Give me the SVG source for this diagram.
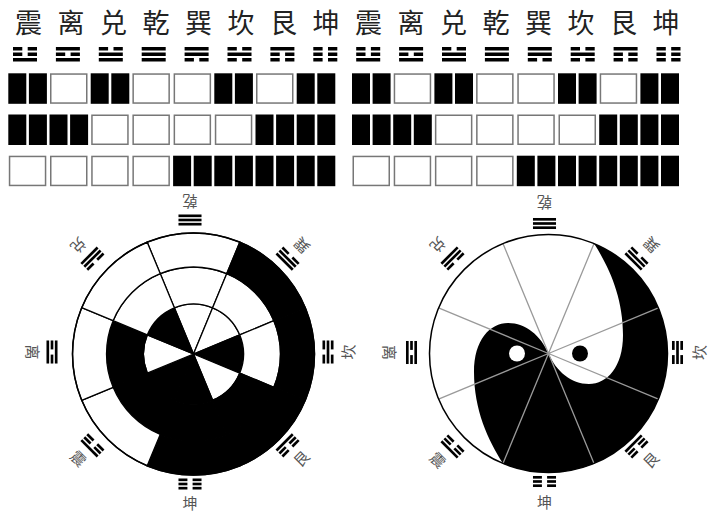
<svg xmlns="http://www.w3.org/2000/svg" width="711" height="513" viewBox="0 0 711 513">
<style>
.top-ch{font-family:"Noto Sans CJK SC","Noto Sans CJK TC",sans-serif;font-size:27px;fill:#222;text-anchor:middle}
.lab{font-family:"Noto Sans CJK SC","Noto Sans CJK TC",sans-serif;font-size:15px;fill:#555;text-anchor:middle;dominant-baseline:central}
.box{fill:#fff;stroke:#777;stroke-width:1.5}
.sb{fill:#000;stroke:#000;stroke-width:1.3}
.sw{fill:#fff;stroke:#000;stroke-width:1.3}
.ray{stroke:#9a9a9a;stroke-width:1.3;fill:none}
.rim{fill:none;stroke:#000;stroke-width:1.5}
</style>
<defs>
<rect id="yang" x="-12" y="-1.75" width="24" height="3.5"/>
<g id="yin"><rect x="-12" y="-1.75" width="9.3" height="3.5"/><rect x="2.7" y="-1.75" width="9.3" height="3.5"/></g>
<g id="t-qian"><use href="#yang" y="-5.5"/><use href="#yang"/><use href="#yang" y="5.5"/></g>
<g id="t-xun"><use href="#yang" y="-5.5"/><use href="#yang"/><use href="#yin" y="5.5"/></g>
<g id="t-kan"><use href="#yin" y="-5.5"/><use href="#yang"/><use href="#yin" y="5.5"/></g>
<g id="t-gen"><use href="#yang" y="-5.5"/><use href="#yin"/><use href="#yin" y="5.5"/></g>
<g id="t-kun"><use href="#yin" y="-5.5"/><use href="#yin"/><use href="#yin" y="5.5"/></g>
<g id="t-zhen"><use href="#yin" y="-5.5"/><use href="#yin"/><use href="#yang" y="5.5"/></g>
<g id="t-li"><use href="#yang" y="-5.5"/><use href="#yin"/><use href="#yang" y="5.5"/></g>
<g id="t-dui"><use href="#yin" y="-5.5"/><use href="#yang"/><use href="#yang" y="5.5"/></g>
<g id="yinBar"><rect x="0" y="0" width="18" height="30.5"/><rect x="20.6" y="0" width="18" height="30.5"/></g>
<rect id="yangBar" class="box" x="1.25" y="0.75" width="36" height="29"/>
</defs>

<g id="header">
<g id="col0"><text class="top-ch" x="28.5" y="33">震</text><use href="#t-zhen" transform="translate(25,54.25)"/></g>
<g id="col1"><text class="top-ch" x="71" y="33">离</text><use href="#t-li" transform="translate(67.9,54.25)"/></g>
<g id="col2"><text class="top-ch" x="113.5" y="33">兑</text><use href="#t-dui" transform="translate(110.8,54.25)"/></g>
<g id="col3"><text class="top-ch" x="156" y="33">乾</text><use href="#t-qian" transform="translate(153.7,54.25)"/></g>
<g id="col4"><text class="top-ch" x="198.5" y="33">巽</text><use href="#t-xun" transform="translate(196.6,54.25)"/></g>
<g id="col5"><text class="top-ch" x="241" y="33">坎</text><use href="#t-kan" transform="translate(239.5,54.25)"/></g>
<g id="col6"><text class="top-ch" x="283.5" y="33">艮</text><use href="#t-gen" transform="translate(282.4,54.25)"/></g>
<g id="col7"><text class="top-ch" x="326" y="33">坤</text><use href="#t-kun" transform="translate(325.3,54.25)"/></g>
<g id="col8"><text class="top-ch" x="368.5" y="33">震</text><use href="#t-zhen" transform="translate(368.2,54.25)"/></g>
<g id="col9"><text class="top-ch" x="411" y="33">离</text><use href="#t-li" transform="translate(411.1,54.25)"/></g>
<g id="col10"><text class="top-ch" x="453.5" y="33">兑</text><use href="#t-dui" transform="translate(454,54.25)"/></g>
<g id="col11"><text class="top-ch" x="496" y="33">乾</text><use href="#t-qian" transform="translate(496.9,54.25)"/></g>
<g id="col12"><text class="top-ch" x="538.5" y="33">巽</text><use href="#t-xun" transform="translate(539.8,54.25)"/></g>
<g id="col13"><text class="top-ch" x="581" y="33">坎</text><use href="#t-kan" transform="translate(582.7,54.25)"/></g>
<g id="col14"><text class="top-ch" x="623.5" y="33">艮</text><use href="#t-gen" transform="translate(625.6,54.25)"/></g>
<g id="col15"><text class="top-ch" x="666" y="33">坤</text><use href="#t-kun" transform="translate(668.5,54.25)"/></g>
</g>

<g id="bars-left">
<!-- row 1: top lines -->
<use href="#yinBar" x="8.3" y="73.3"/><use href="#yangBar" x="49.5" y="73.3"/><use href="#yinBar" x="90.7" y="73.3"/><use href="#yangBar" x="131.9" y="73.3"/>
<use href="#yangBar" x="173.1" y="73.3"/><use href="#yinBar" x="214.3" y="73.3"/><use href="#yangBar" x="255.5" y="73.3"/><use href="#yinBar" x="296.7" y="73.3"/>
<!-- row 2: middle lines -->
<use href="#yinBar" x="8.3" y="114.5"/><use href="#yinBar" x="49.5" y="114.5"/><use href="#yangBar" x="90.7" y="114.5"/><use href="#yangBar" x="131.9" y="114.5"/>
<use href="#yangBar" x="173.1" y="114.5"/><use href="#yangBar" x="214.3" y="114.5"/><use href="#yinBar" x="255.5" y="114.5"/><use href="#yinBar" x="296.7" y="114.5"/>
<!-- row 3: bottom lines -->
<use href="#yangBar" x="8.3" y="155.7"/><use href="#yangBar" x="49.5" y="155.7"/><use href="#yangBar" x="90.7" y="155.7"/><use href="#yangBar" x="131.9" y="155.7"/>
<use href="#yinBar" x="173.1" y="155.7"/><use href="#yinBar" x="214.3" y="155.7"/><use href="#yinBar" x="255.5" y="155.7"/><use href="#yinBar" x="296.7" y="155.7"/>
</g>
<g id="bars-right">
<use href="#yinBar" x="352" y="73.3"/><use href="#yangBar" x="393.2" y="73.3"/><use href="#yinBar" x="434.4" y="73.3"/><use href="#yangBar" x="475.6" y="73.3"/>
<use href="#yangBar" x="516.8" y="73.3"/><use href="#yinBar" x="558" y="73.3"/><use href="#yangBar" x="599.2" y="73.3"/><use href="#yinBar" x="640.4" y="73.3"/>
<use href="#yinBar" x="352" y="114.5"/><use href="#yinBar" x="393.2" y="114.5"/><use href="#yangBar" x="434.4" y="114.5"/><use href="#yangBar" x="475.6" y="114.5"/>
<use href="#yangBar" x="516.8" y="114.5"/><use href="#yangBar" x="558" y="114.5"/><use href="#yinBar" x="599.2" y="114.5"/><use href="#yinBar" x="640.4" y="114.5"/>
<use href="#yangBar" x="352" y="155.7"/><use href="#yangBar" x="393.2" y="155.7"/><use href="#yangBar" x="434.4" y="155.7"/><use href="#yangBar" x="475.6" y="155.7"/>
<use href="#yinBar" x="516.8" y="155.7"/><use href="#yinBar" x="558" y="155.7"/><use href="#yinBar" x="599.2" y="155.7"/><use href="#yinBar" x="640.4" y="155.7"/>
</g>

<g id="ring-chart">
<g id="ring-inner">
<path class="sw" d="M193.5,354 L174.37,307.81 A50,50 0 0 1 212.63,307.81 Z"/>
<path class="sw" d="M193.5,354 L212.63,307.81 A50,50 0 0 1 239.69,334.87 Z"/>
<path class="sb" d="M193.5,354 L239.69,334.87 A50,50 0 0 1 239.69,373.13 Z"/>
<path class="sw" d="M193.5,354 L239.69,373.13 A50,50 0 0 1 212.63,400.19 Z"/>
<path class="sb" d="M193.5,354 L212.63,400.19 A50,50 0 0 1 174.37,400.19 Z"/>
<path class="sb" d="M193.5,354 L174.37,400.19 A50,50 0 0 1 147.31,373.13 Z"/>
<path class="sw" d="M193.5,354 L147.31,373.13 A50,50 0 0 1 147.31,334.87 Z"/>
<path class="sb" d="M193.5,354 L147.31,334.87 A50,50 0 0 1 174.37,307.81 Z"/>
</g>
<g id="ring-middle">
<path class="sw" d="M174.37,307.81 L160.21,273.62 A87,87 0 0 1 226.79,273.62 L212.63,307.81 A50,50 0 0 0 174.37,307.81 Z"/>
<path class="sw" d="M212.63,307.81 L226.79,273.62 A87,87 0 0 1 273.88,320.71 L239.69,334.87 A50,50 0 0 0 212.63,307.81 Z"/>
<path class="sw" d="M239.69,334.87 L273.88,320.71 A87,87 0 0 1 273.88,387.29 L239.69,373.13 A50,50 0 0 0 239.69,334.87 Z"/>
<path class="sb" d="M239.69,373.13 L273.88,387.29 A87,87 0 0 1 226.79,434.38 L212.63,400.19 A50,50 0 0 0 239.69,373.13 Z"/>
<path class="sb" d="M212.63,400.19 L226.79,434.38 A87,87 0 0 1 160.21,434.38 L174.37,400.19 A50,50 0 0 0 212.63,400.19 Z"/>
<path class="sb" d="M174.37,400.19 L160.21,434.38 A87,87 0 0 1 113.12,387.29 L147.31,373.13 A50,50 0 0 0 174.37,400.19 Z"/>
<path class="sb" d="M147.31,373.13 L113.12,387.29 A87,87 0 0 1 113.12,320.71 L147.31,334.87 A50,50 0 0 0 147.31,373.13 Z"/>
<path class="sw" d="M147.31,334.87 L113.12,320.71 A87,87 0 0 1 160.21,273.62 L174.37,307.81 A50,50 0 0 0 147.31,334.87 Z"/>
</g>
<g id="ring-outer">
<path class="sw" d="M160.21,273.62 L147.2,242.21 A121,121 0 0 1 239.8,242.21 L226.79,273.62 A87,87 0 0 0 160.21,273.62 Z"/>
<path class="sb" d="M226.79,273.62 L239.8,242.21 A121,121 0 0 1 305.29,307.7 L273.88,320.71 A87,87 0 0 0 226.79,273.62 Z"/>
<path class="sb" d="M273.88,320.71 L305.29,307.7 A121,121 0 0 1 305.29,400.3 L273.88,387.29 A87,87 0 0 0 273.88,320.71 Z"/>
<path class="sb" d="M273.88,387.29 L305.29,400.3 A121,121 0 0 1 239.8,465.79 L226.79,434.38 A87,87 0 0 0 273.88,387.29 Z"/>
<path class="sb" d="M226.79,434.38 L239.8,465.79 A121,121 0 0 1 147.2,465.79 L160.21,434.38 A87,87 0 0 0 226.79,434.38 Z"/>
<path class="sw" d="M160.21,434.38 L147.2,465.79 A121,121 0 0 1 81.71,400.3 L113.12,387.29 A87,87 0 0 0 160.21,434.38 Z"/>
<path class="sw" d="M113.12,387.29 L81.71,400.3 A121,121 0 0 1 81.71,307.7 L113.12,320.71 A87,87 0 0 0 113.12,387.29 Z"/>
<path class="sw" d="M113.12,320.71 L81.71,307.7 A121,121 0 0 1 147.2,242.21 L160.21,273.62 A87,87 0 0 0 113.12,320.71 Z"/>
</g>
<circle class="rim" cx="193.5" cy="354" r="121"/>
</g>

<g id="left-labels">
<g id="L-qian"><use href="#t-qian" transform="translate(190,220) rotate(180) scale(0.96,0.76)"/><text class="lab" transform="translate(190,202) rotate(180)">乾</text></g>
<g id="L-xun"><use href="#t-xun" transform="translate(287.58,258.66) rotate(225) scale(0.96,0.76)"/><text class="lab" transform="translate(301.02,245.93) rotate(225)">巽</text></g>
<g id="L-kan"><use href="#t-kan" transform="translate(328,352) rotate(270) scale(0.96,0.76)"/><text class="lab" transform="translate(347,352) rotate(270)">坎</text></g>
<g id="L-gen"><use href="#t-gen" transform="translate(287.58,445.34) rotate(315) scale(0.96,0.76)"/><text class="lab" transform="translate(301.02,458.07) rotate(315)">艮</text></g>
<g id="L-kun"><use href="#t-kun" transform="translate(190,484) scale(0.96,0.76)"/><text class="lab" transform="translate(190,502)">坤</text></g>
<g id="L-zhen"><use href="#t-zhen" transform="translate(92.42,445.34) rotate(45) scale(0.96,0.76)"/><text class="lab" transform="translate(78.98,458.07) rotate(45)">震</text></g>
<g id="L-li"><use href="#t-li" transform="translate(52,352) rotate(90) scale(0.96,0.76)"/><text class="lab" transform="translate(33,352) rotate(90)">离</text></g>
<g id="L-dui"><use href="#t-dui" transform="translate(92.42,258.66) rotate(135) scale(0.96,0.76)"/><text class="lab" transform="translate(78.98,245.93) rotate(135)">兑</text></g>
</g>

<g id="taiji">
<circle cx="548.5" cy="353.5" r="119" fill="#fff"/>
<path id="yin-fish" fill="#000" d="M594.04,243.56 A119,119 0 0 1 658.44,399.04 A119,119 0 0 1 502.96,463.44 C488,440 474,410 474,372 C474,340 490,323 508,323 C526,323 541,336 548.5,353.5 C556,371 571,384 589,384 C607,384 623,367 623,335 C623,297 609,267 594.04,243.56 Z"/>
<circle id="yin-eye" cx="517" cy="353.5" r="8" fill="#fff"/>
<circle id="yang-eye" cx="580" cy="353.5" r="8" fill="#000"/>
</g>
<g id="radial-lines">
<path class="ray" d="M548.5,353.5 L502.96,243.56 M548.5,353.5 L594.04,243.56 M548.5,353.5 L658.44,307.96 M548.5,353.5 L658.44,399.04 M548.5,353.5 L594.04,463.44 M548.5,353.5 L502.96,463.44 M548.5,353.5 L438.56,399.04 M548.5,353.5 L438.56,307.96"/>
</g>
<circle class="rim" cx="548.5" cy="353.5" r="119"/>

<g id="right-labels">
<g id="R-qian"><use href="#t-qian" transform="translate(544.5,223.5) rotate(180) scale(0.96,0.76)"/><text class="lab" transform="translate(544.5,203.5) rotate(180)">乾</text></g>
<g id="R-xun"><use href="#t-xun" transform="translate(636.5,258.5) rotate(225) scale(0.96,0.76)"/><text class="lab" transform="translate(650.5,245.5) rotate(225)">巽</text></g>
<g id="R-kan"><use href="#t-kan" transform="translate(677.5,352.5) rotate(270) scale(0.96,0.76)"/><text class="lab" transform="translate(698.5,352.5) rotate(270)">坎</text></g>
<g id="R-gen"><use href="#t-gen" transform="translate(636.5,446.5) rotate(315) scale(0.96,0.76)"/><text class="lab" transform="translate(650.5,459.5) rotate(315)">艮</text></g>
<g id="R-kun"><use href="#t-kun" transform="translate(544.5,481.5) scale(0.96,0.76)"/><text class="lab" transform="translate(544.5,501.5)">坤</text></g>
<g id="R-zhen"><use href="#t-zhen" transform="translate(452.5,446.5) rotate(45) scale(0.96,0.76)"/><text class="lab" transform="translate(438.5,459.5) rotate(45)">震</text></g>
<g id="R-li"><use href="#t-li" transform="translate(411.5,352.5) rotate(90) scale(0.96,0.76)"/><text class="lab" transform="translate(390.5,352.5) rotate(90)">离</text></g>
<g id="R-dui"><use href="#t-dui" transform="translate(452.5,258.5) rotate(135) scale(0.96,0.76)"/><text class="lab" transform="translate(438.5,245.5) rotate(135)">兑</text></g>
</g>
</svg>
